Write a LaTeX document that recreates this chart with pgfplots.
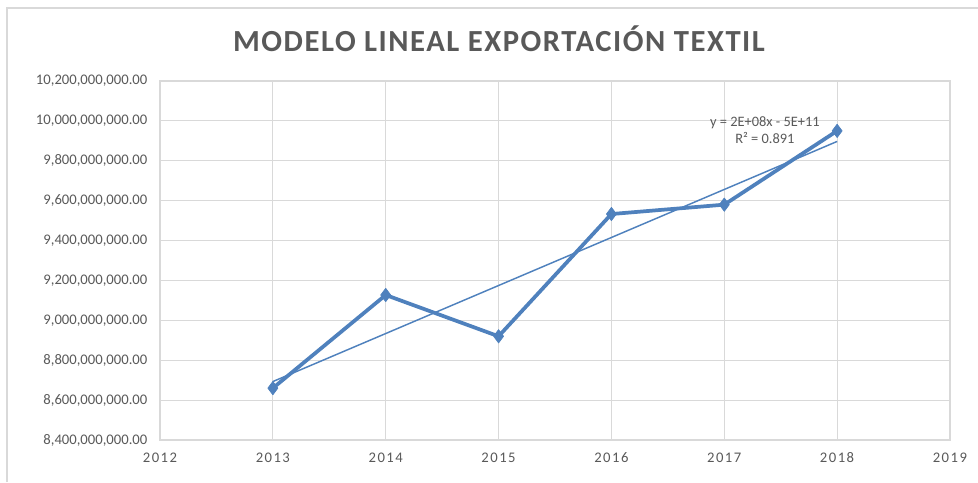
\documentclass[border=0pt]{standalone}
\usepackage{fontspec}
\setmainfont{Carlito}
\newfontfamily\titlefont[LetterSpace=5]{Carlito}
\newfontfamily\tickfont[LetterSpace=10]{Carlito}
\usepackage{pgfplots}
\pgfplotsset{compat=1.18}
\definecolor{SerieBlue}{HTML}{4F81BD}
\definecolor{GridGray}{HTML}{D9D9D9}
\definecolor{TextGray}{HTML}{595959}

\pgfplotstableread{
year value
2013 8660000000
2014 9127000000
2015 8920000000
2016 9533000000
2017 9580000000
2018 9950000000
}\exports

\begin{document}
\begin{tikzpicture}
% frame of the picture: 978 x 482 px at 0.75pt per px
\useasboundingbox (0,0) rectangle (733.5pt,361.5pt);
\draw[GridGray,line width=1.2pt] (5.25pt,0) -- (5.25pt,355.5pt) -- (733.5pt,355.5pt);
\node[font=\titlefont\bfseries\fontsize{23}{26}\selectfont,text=TextGray] at (374.25pt,332.5pt) {MODELO LINEAL EXPORTACIÓN TEXTIL};
\begin{axis}[at={(120pt,31.5pt)},anchor=south west,
  scale only axis,width=592.5pt,height=269.25pt,
  xmin=2012,xmax=2019,ymin=8400000000,ymax=10200000000,
  scaled y ticks=false,
  axis line style={GridGray,line width=0.8pt},
  grid=major,grid style={GridGray,line width=0.8pt},
  major tick length=0pt,
  xtick={2012,...,2019},
  xticklabels={2012,2013,2014,2015,2016,2017,2018,2019},
  xticklabel style={font=\tickfont\fontsize{11}{13}\selectfont,text=TextGray,yshift=-6pt},
  ytick={8400000000,8600000000,8800000000,9000000000,9200000000,9400000000,9600000000,9800000000,10000000000,10200000000},
  yticklabels={{8,400,000,000.00},{8,600,000,000.00},{8,800,000,000.00},{9,000,000,000.00},{9,200,000,000.00},{9,400,000,000.00},{9,600,000,000.00},{9,800,000,000.00},{10,000,000,000.00},{10,200,000,000.00}},
  yticklabel style={font=\fontsize{11}{13}\selectfont,text=TextGray,xshift=-6pt},
  clip=false]
% series: thick line, filled again in the middle so it reads solid
\addplot[draw=SerieBlue,line width=2.8pt,line join=round] table[x=year,y=value] {\exports};
\addplot[draw=SerieBlue,line width=1.4pt,line join=round,
  mark=diamond*,mark size=5pt,
  mark options={solid,fill=SerieBlue,draw=SerieBlue,line width=0.5pt}] table[x=year,y=value] {\exports};
% linear trend line
\addplot[draw=SerieBlue,line width=1.1pt] coordinates {
(2013,8693000000) (2018,9897000000)};
\node[font=\fontsize{10.8}{13}\selectfont,text=TextGray,align=center] at (axis cs:2017.36,9955000000)
  {y = 2E+08x - 5E+11\\R² = 0.891};
\end{axis}
\end{tikzpicture}
\end{document}
